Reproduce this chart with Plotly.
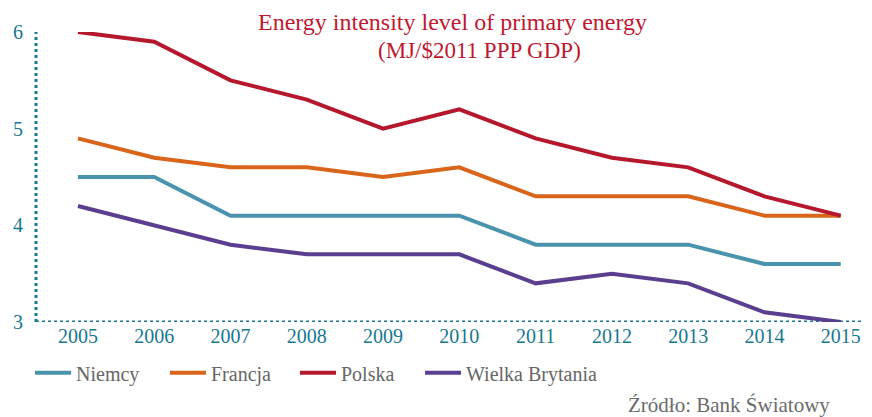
import plotly.graph_objects as go

years = [2005, 2006, 2007, 2008, 2009, 2010, 2011, 2012, 2013, 2014, 2015]
niemcy = [4.5, 4.5, 4.1, 4.1, 4.1, 4.1, 3.8, 3.8, 3.8, 3.6, 3.6]
francja = [4.9, 4.7, 4.6, 4.6, 4.5, 4.6, 4.3, 4.3, 4.3, 4.1, 4.1]
polska = [6.0, 5.9, 5.5, 5.3, 5.0, 5.2, 4.9, 4.7, 4.6, 4.3, 4.1]
wielka_brytania = [4.2, 4.0, 3.8, 3.7, 3.7, 3.7, 3.4, 3.5, 3.4, 3.1, 3.0]

series = [
    ("Niemcy", niemcy, "#4a93ad"),
    ("Francja", francja, "#d9651b"),
    ("Polska", polska, "#b5182c"),
    ("Wielka Brytania", wielka_brytania, "#5a3f91"),
]

AXIS = "#17788f"
SERIF = "Liberation Serif"

# one legend per series so each entry sits where the reference has it
legend_x = [22, 157, 287, 412]
legend_ids = ["legend", "legend2", "legend3", "legend4"]

fig = go.Figure()
for (name, vals, color), lid in zip(series, legend_ids):
    fig.add_trace(go.Scatter(
        x=years, y=vals, name=name, mode="lines",
        line=dict(color=color, width=4), legend=lid,
    ))

# dotted axis lines
fig.add_shape(type="line", xref="paper", yref="y", x0=0, x1=1.02, y0=3, y1=3,
              line=dict(color=AXIS, width=3, dash="3px,3px"), layer="below")
fig.add_shape(type="line", xref="paper", yref="y", x0=0, x1=0, y0=3, y1=6,
              line=dict(color=AXIS, width=3, dash="3px,3px"), layer="below")

fig.add_annotation(text="Energy intensity level of primary energy",
                   xref="paper", yref="paper", x=0.498, y=1.034,
                   xanchor="center", yanchor="middle", showarrow=False,
                   font=dict(family=SERIF, size=24, color="#c0182f"))
fig.add_annotation(text="(MJ/$2011 PPP GDP)",
                   xref="paper", yref="paper", x=0.53, y=0.936,
                   xanchor="center", yanchor="middle", showarrow=False,
                   font=dict(family=SERIF, size=23, color="#c0182f"))
fig.add_annotation(text="Źródło: Bank Światowy",
                   xref="paper", yref="paper", x=0.952, y=-0.286,
                   xanchor="right", yanchor="middle", showarrow=False,
                   font=dict(family=SERIF, size=21, color="#6b6b6b"))

W, H = 864, 409  # page body adds an 8px offset, so size to the visible area
legends = {}
for lid, lx in zip(legend_ids, legend_x):
    legends[lid] = dict(orientation="h", xref="container", x=lx / W, xanchor="left",
                        yref="container", y=0.108, yanchor="middle",
                        font=dict(family=SERIF, size=20, color="#666666"),
                        itemwidth=36, bgcolor="rgba(0,0,0,0)")

fig.update_layout(
    width=W, height=H,
    paper_bgcolor="white", plot_bgcolor="white",
    margin=dict(l=28, r=0, t=24, b=95),
    font=dict(family=SERIF, size=20, color=AXIS),
    showlegend=True,
    **legends,
)
fig.update_xaxes(range=[2004.45, 2015.41], tickvals=years, showgrid=False,
                 zeroline=False, showline=False, ticks="", automargin=False,
                 tickfont=dict(color=AXIS, size=20))
fig.update_yaxes(range=[3, 6], tickvals=[3, 4, 5, 6], showgrid=False,
                 zeroline=False, showline=False, ticks="", automargin=False,
                 ticklabelstandoff=12,
                 tickfont=dict(color=AXIS, size=20))

fig.write_html("out.html")
